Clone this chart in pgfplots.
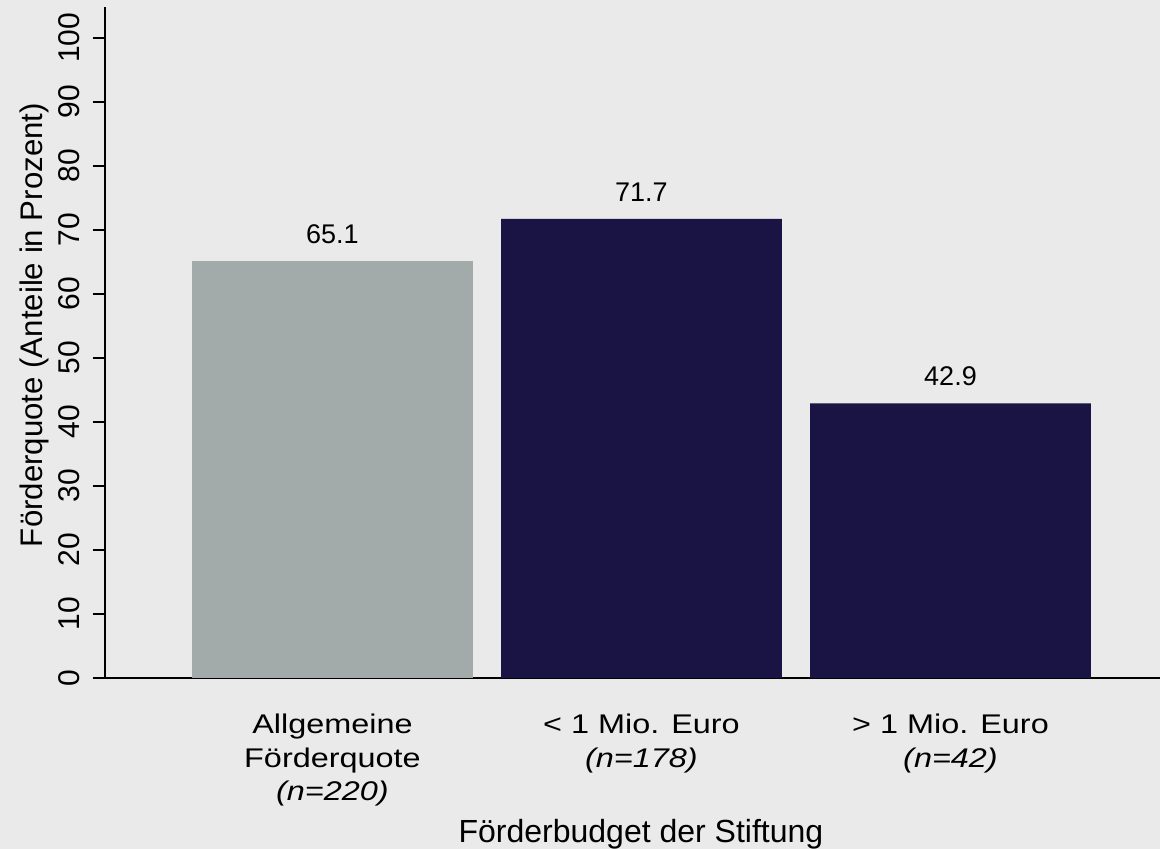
\documentclass[border=0pt]{standalone}
\usepackage{pgfplots}
\pgfplotsset{compat=1.18}
\usepackage{fontspec}
\setmainfont{Liberation Sans}
\newfontfamily\catfont[FakeStretch=1.2]{Liberation Sans}
\definecolor{bg}{HTML}{EAEAEA}
\definecolor{grayb}{HTML}{A2AAAA}
\definecolor{navy}{HTML}{191444}
\begin{document}
\begin{tikzpicture}[x=1pt,y=1pt]
\fill[bg] (0,0) rectangle (580,424.5);
\useasboundingbox (0,0) rectangle (580,424.5);
\begin{axis}[
  at={(52.5pt,85.5pt)}, anchor=south west,
  scale only axis, width=527.5pt, height=335.5pt,
  xmin=-0.736, xmax=2.678, ymin=0, ymax=104.8,
  axis lines*=left,
  axis line style={line width=1pt, black},
  every tick/.style={line width=1pt, black},
  tick align=outside, major tick length=6pt,
  ytick={0,10,...,100},
  xtick={0,1,2},
  xtick style={draw=none},
  xticklabels={{Allgemeine\\Förderquote\\\textit{(n=220)}},{< 1 Mio. Euro\\\textit{(n=178)}},{> 1 Mio. Euro\\\textit{(n=42)}}},
  xticklabel style={align=center, font=\catfont\fontsize{13.5}{16.75}\selectfont, anchor=north, yshift=-8.5pt},
  yticklabel style={xshift=-3pt, rotate=90, anchor=south, font=\fontsize{15}{17}\selectfont},
  /pgf/number format/assume math mode=true,
  ylabel={Förderquote (Anteile in Prozent)},
  ylabel style={at={(axis description cs:-0.0588,0.526)}, anchor=base, rotate=0, font=\fontsize{15.6}{18}\selectfont},
  xlabel={Förderbudget der Stiftung},
  xlabel style={at={(axis description cs:0.508,0)}, anchor=base, yshift=-82pt, font=\fontsize{16}{18}\selectfont},
  nodes near coords,
  point meta=explicit symbolic,
  nodes near coords style={anchor=south, yshift=5pt, font=\fontsize{13.5}{16}\selectfont, black},
  clip=false,
]
\addplot[ybar, bar shift=0pt, bar width=0.909, fill=grayb, draw=none] coordinates {(0,65.1) [65.1]};
\addplot[ybar, bar shift=0pt, bar width=0.909, fill=navy, draw=none] coordinates {(1,71.7) [71.7] (2,42.9) [42.9]};
\end{axis}
\end{tikzpicture}
\end{document}
